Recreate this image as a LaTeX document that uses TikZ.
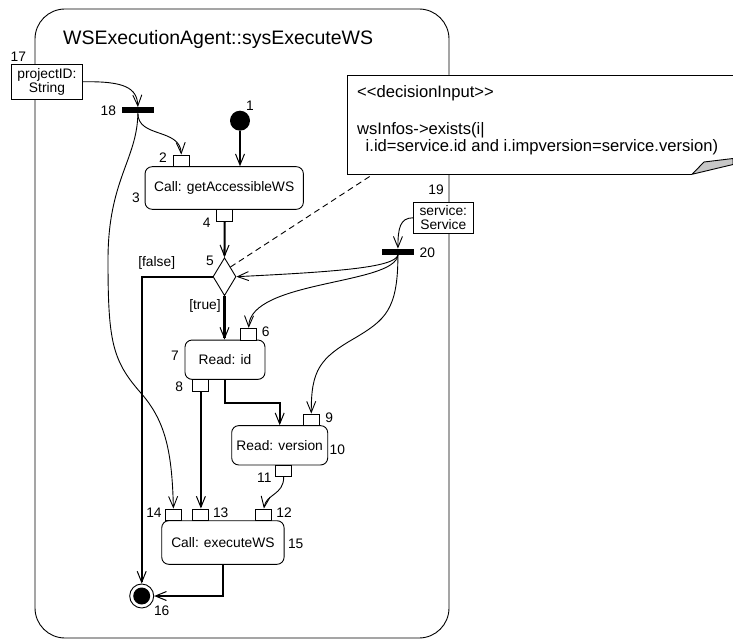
\documentclass[tikz,border=0pt]{standalone}
\usepackage{fontspec}
\setmainfont{Liberation Sans}
\usetikzlibrary{arrows.meta,shapes.geometric}

\newcommand\smallfnt{\fontsize{13.8}{14.3}\selectfont}
\newcommand\notefnt{\fontsize{16.6}{18}\selectfont}
\newcommand\titlefnt{\fontsize{19.5}{22}\selectfont}

\begin{document}
\begin{tikzpicture}[x=1pt,y=-1pt,
  flow/.style={line width=0.9pt,-{Straight Barb[length=11pt,width=9pt,line width'=0.9pt]}},
  ctrl/.style={line width=2.1pt,-{Straight Barb[length=11pt,width=9pt,line width'=1pt]}},
  action/.style={draw,line width=0.9pt,fill=white,rounded corners=7pt,inner sep=0,font=\smallfnt},
  pinbox/.style={draw,line width=0.9pt,fill=white,inner sep=0,minimum width=16pt,minimum height=11.7pt},
  objbox/.style={draw,line width=0.9pt,fill=white,inner sep=0,align=center,font=\smallfnt},
  bar/.style={fill=black,inner sep=0,minimum width=32.3pt,minimum height=6pt},
  num/.style={inner sep=0,font=\smallfnt},
  notetext/.style={anchor=base west,inner sep=0,font=\notefnt}]
\useasboundingbox (0,0) rectangle (733,639);

% activity frame
\node[draw,line width=0.9pt,rounded corners=30pt,minimum width=414pt,minimum height=629pt,inner sep=0] (frame) at (242,323.5) {};
\node[anchor=base west,inner sep=0,font=\titlefnt] (title) at (63,45) {WSExecutionAgent::sysExecuteWS};

% decision input note with folded corner
\fill[white] (347,75) -- (733,75) -- (733,163) -- (692,174.3) -- (347,174.3) -- cycle;
\draw[line width=0.9pt] (733,75) -- (347,75) -- (347,174.3) -- (692,174.3);
\draw[line width=0.9pt,fill=black!22,line join=round] (692,174.3) -- (704,162) -- (733,158.5) -- (733,164.5) -- cycle;
\coordinate (notefoot) at (373,174.3);
\node[notetext] (n1) at (357,97.3) {<{}<decisionInput>{}>};
\node[notetext] (n2) at (357,135) {wsInfos->exists(i|};
\node[notetext] (n3) at (365.5,151.7) {i.id=service.id and i.impversion=service.version)};

% actions
\node[action,minimum width=158.3pt,minimum height=42.6pt] (a3) at (224.2,188) {Call: getAccessibleWS};
\node[action,minimum width=80pt,minimum height=39.3pt] (a7) at (225,359.7) {Read: id};
\node[action,minimum width=96pt,minimum height=39.3pt] (a10) at (279.7,445.3) {Read: version};
\node[action,minimum width=122.3pt,minimum height=43.6pt] (a15) at (222.9,542.5) {Call: executeWS};

% pins
\node[pinbox] (p2) at (181.3,160.85) {};
\node[pinbox] (p4) at (224.7,215.15) {};
\node[pinbox] (p6) at (248.7,334.15) {};
\node[pinbox] (p8) at (200.9,385.15) {};
\node[pinbox] (p9) at (311.3,419.85) {};
\node[pinbox] (p11) at (283.7,470.85) {};
\node[pinbox] (p14) at (173.4,514.85) {};
\node[pinbox] (p13) at (200.9,514.85) {};
\node[pinbox] (p12) at (263.9,514.85) {};

% control nodes
\node[circle,fill=black,minimum size=20pt,inner sep=0] (init) at (240,120.7) {};
\node[diamond,draw,line width=0.9pt,fill=white,minimum width=23pt,minimum height=38pt,inner sep=0] (dia) at (224.5,276.7) {};
\node[circle,draw,line width=0.9pt,fill=white,minimum size=24pt,inner sep=0] (fin) at (141.7,596) {};
\node[circle,fill=black,minimum size=17pt,inner sep=0] (fincore) at (fin.center) {};
\node[bar] (f18) at (137.9,110.3) {};
\node[bar] (f20) at (397.9,251.8) {};

% parameter nodes on the frame border
\node[objbox,minimum width=70.6pt,minimum height=35pt] (o17) at (47,81.8) {projectID:\\String};
\node[objbox,minimum width=60pt,minimum height=31pt] (o19) at (443.3,217.8) {service:\\Service};

% numbers and guards
\node[num] (l1) at (250,106) {1};
\node[num] (l2) at (163,158) {2};
\node[num] (l3) at (136,197.7) {3};
\node[num] (l4) at (206.7,223) {4};
\node[num] (l5) at (210,261) {5};
\node[num] (lfalse) at (156.7,263) {[false]};
\node[num] (ltrue) at (205,305.7) {[true]};
\node[num] (l6) at (265.7,331.7) {6};
\node[num] (l7) at (175,356) {7};
\node[num] (l8) at (179.3,386.7) {8};
\node[num] (l9) at (329.3,417.3) {9};
\node[num] (l10) at (337.3,449.3) {10};
\node[num] (l11) at (264.3,477.7) {11};
\node[num] (l12) at (284,512.7) {12};
\node[num] (l13) at (220.7,512.7) {13};
\node[num] (l14) at (154,512.7) {14};
\node[num] (l15) at (295.7,544.3) {15};
\node[num] (l16) at (161.7,611) {16};
\node[num] (l17) at (18.3,56.3) {17};
\node[num] (l18) at (108.3,110.7) {18};
\node[num] (l19) at (436,189.3) {19};
\node[num] (l20) at (427.3,252.7) {20};

% control flows
\coordinate (bend) at (250,402.7);
\draw[ctrl] (init) -- (init |- a3.north);
\draw[ctrl] (p4.south) -- (dia.north);
\draw[ctrl] (dia.west) -| (fin.north);
\draw[ctrl] (dia.south) -- (dia.south |- a7.north);
\draw[ctrl] (a7.south) |- (bend) -| (a10.north);
\draw[ctrl] (p8.south) -- (p13.north);
\draw[ctrl] (a15.south) |- (fin.east);

% object flows
\draw[flow] (o17.east) .. controls (125,81) and (137,88) .. (f18.north);
\draw[flow] (f18.south) .. controls (138,138) and (180,128) .. (p2.north);
\draw[flow] (f18.south) .. controls (137,160) and (108,180) .. (108,260)
  .. controls (108,340) and (112,360) .. (140,392)
  .. controls (165,420) and (172,450) .. (p14.north);
\draw[flow] (p11.south) .. controls (283.7,495) and (266,494) .. (p12.north);
\draw[flow] (o19.west) .. controls (400,218) and (398,228) .. (f20.north);
\draw[flow] (f20.south) .. controls (395,268) and (330,272) .. (dia.east);
\draw[flow] (f20.south) .. controls (395,285) and (250,280) .. (p6.north);
\draw[flow] (f20.south) .. controls (398,310) and (385,320) .. (355,338)
  .. controls (320,358) and (311,370) .. (p9.north);

% note anchor
\draw[line width=0.9pt,dash pattern=on 6pt off 4pt] (dia.north east) -- (notefoot);
\end{tikzpicture}
\end{document}
